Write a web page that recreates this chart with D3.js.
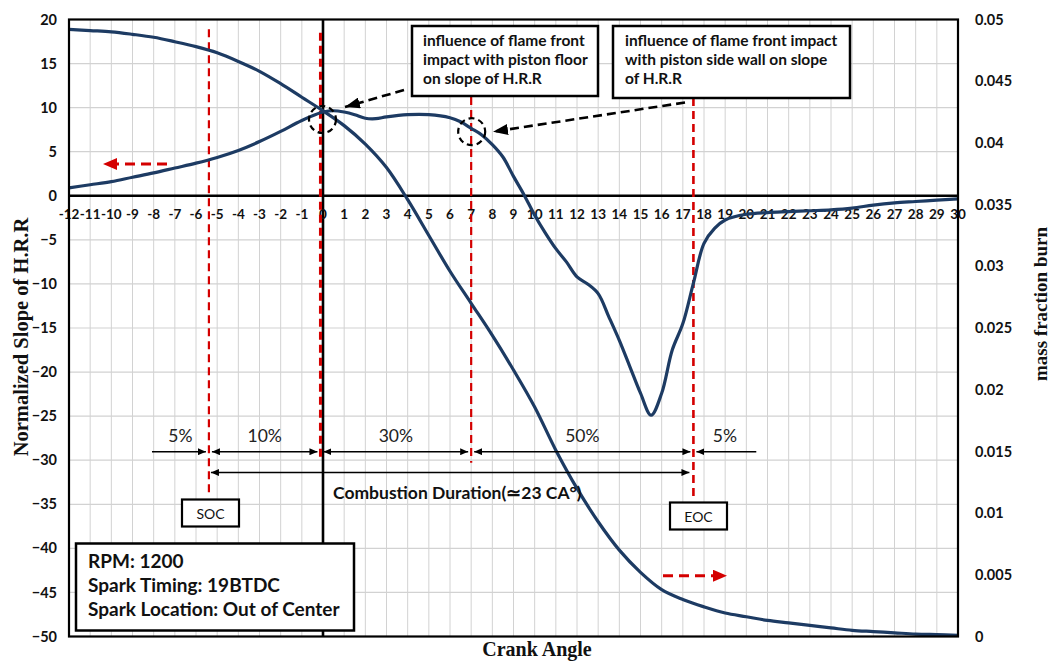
<!DOCTYPE html>
<html><head><meta charset="utf-8">
<script src="https://cdn.jsdelivr.net/npm/d3@7"></script>
<style>body{margin:0;background:#fff}svg{display:block}</style>
</head><body><svg id="c" width="1054" height="662"></svg>
<script>
// ---------- data ----------
const hrrAngle = [-12,-11,-10,-9,-8,-7,-6,-5,-4,-3,-2,-1,0,0.5,1,1.5,2,2.5,3,4,5,6,6.5,7,7.5,8,8.5,9,9.5,10,10.5,11,11.5,12,12.5,13,13.5,14,14.5,15,15.5,16,16.5,17,17.5,18,18.5,19,20,21,22,23,24,25,26,27,28,29,30];
const hrrSlope = [0.9,1.25,1.6,2.1,2.6,3.15,3.7,4.35,5.15,6.15,7.3,8.55,9.5,9.65,9.5,9.2,8.8,8.75,8.95,9.2,9.2,8.85,8.4,7.65,6.9,5.8,4.4,2.2,0.1,-2.2,-4.2,-6.0,-7.5,-9.2,-10.0,-11.1,-13.7,-16.4,-19.4,-22.4,-24.9,-22.4,-17.5,-14.5,-9.9,-5.4,-3.7,-2.75,-2.1,-1.9,-1.8,-1.7,-1.6,-1.4,-1.05,-0.8,-0.65,-0.5,-0.35];
const mfbAngle = [-12,-11,-10,-9,-8,-7,-6,-5,-4,-3,-2,-1,0,1,2,3,4,5,6,7,8,9,10,11,12,13,14,15,16,17,18,19,20,21,22,23,24,25,26,27,28,29,30];
const mfbValue = [0.0492,0.0491,0.0490,0.0488,0.04856,0.0482,0.0478,0.0473,0.0466,0.0458,0.0448,0.0437,0.0426,0.0414,0.0399,0.0380,0.0354,0.0325,0.0296,0.0270,0.0244,0.0216,0.0186,0.0151,0.0120,0.0093,0.0070,0.0052,0.0038,0.0030,0.0024,0.0019,0.0016,0.0013,0.0011,0.0009,0.0007,0.0005,0.0004,0.0003,0.0002,0.00015,0.0001];
const xTickLabels = [-12,-11,-10,-9,-8,-7,-6,-5,-4,-3,-2,-1,0,1,2,3,4,5,6,7,8,9,10,11,12,13,14,15,16,17,18,19,20,21,22,23,24,25,26,27,28,29,30];
const leftTicks = [-50,-45,-40,-35,-30,-25,-20,-15,-10,-5,0,5,10,15,20];
const rightTicks = [0,0.005,0.01,0.015,0.02,0.025,0.03,0.035,0.04,0.045,0.05];
const phaseLabels = ["5%","10%","30%","50%","5%"];
const phaseBounds = [-8.08,-5.39,-0.12,7,17.5,20.47];
const socAngle = -5.39, eocAngle = 17.5;
const infoLines = ["RPM: 1200","Spark Timing: 19BTDC","Spark Location: Out of Center"];
const note1 = ["influence of flame front","impact with piston floor","on slope of H.R.R"];
const note2 = ["influence of flame front impact","with piston side wall on slope","of H.R.R"];

// ---------- scales ----------
const svg = d3.select("#c");
const L = 69, R = 958, T = 19.5, B = 636.5;
const x = d3.scaleLinear().domain([-12,30]).range([L,R]);
const yL = d3.scaleLinear().domain([-50,20]).range([B,T]);
const yR = d3.scaleLinear().domain([0,0.05]).range([B,T]);
const navy = "#1d3b63", red = "#d40000";
const sans = "Lato, 'Open Sans', sans-serif", serif = "'Liberation Serif', 'DejaVu Serif', serif";

// markers
const defs = svg.append("defs");
function marker(id, w, h, color){
  defs.append("marker").attr("id",id).attr("markerUnits","userSpaceOnUse")
    .attr("markerWidth",w).attr("markerHeight",h).attr("refX",w).attr("refY",h/2)
    .attr("orient","auto-start-reverse")
    .append("path").attr("d",`M0,0L${w},${h/2}L0,${h}Z`).attr("fill",color);
}
marker("ak",8,7,"#000");
marker("ar",14,12,red);
marker("ad",15,11,"#000");

// grid
const g = svg.append("g");
g.selectAll(".vg").data(xTickLabels.filter(d=>d>-12&&d<30)).enter().append("line")
  .attr("x1",d=>x(d)).attr("x2",d=>x(d)).attr("y1",T).attr("y2",B)
  .attr("stroke","#d2d2d2").attr("stroke-width",1);
g.selectAll(".hg").data(leftTicks.filter(d=>d>-50&&d<20)).enter().append("line")
  .attr("x1",L).attr("x2",R).attr("y1",d=>yL(d)).attr("y2",d=>yL(d))
  .attr("stroke","#d2d2d2").attr("stroke-width",1.2);

// zero lines
g.append("line").attr("x1",L).attr("x2",R).attr("y1",yL(0)).attr("y2",yL(0)).attr("stroke","#000").attr("stroke-width",2.6);
g.append("line").attr("x1",x(0)).attr("x2",x(0)).attr("y1",T).attr("y2",B).attr("stroke","#000").attr("stroke-width",2.6);

// x tick labels on the zero line
g.selectAll(".xt").data(xTickLabels).enter().append("text")
  .attr("x",d=>x(d)).attr("y",yL(0)+23).attr("text-anchor","middle")
  .attr("font-family",sans).attr("font-weight","bold").attr("font-size",13.5).attr("fill","#111")
  .text(d=>d);

// left axis
const la = svg.append("g").attr("transform",`translate(${L},0)`)
  .call(d3.axisLeft(yL).tickValues(leftTicks).tickSize(0).tickPadding(12));
la.select(".domain").remove();
la.selectAll("text").attr("font-family",sans).attr("font-weight","bold").attr("font-size",14.5).attr("fill","#111");

// right axis
const ra = svg.append("g").attr("transform",`translate(${R},0)`)
  .call(d3.axisRight(yR).tickValues(rightTicks).tickSize(0).tickPadding(17).tickFormat(d=>String(+d.toFixed(4))));
ra.select(".domain").remove();
ra.selectAll("text").attr("font-family",sans).attr("font-weight","bold").attr("font-size",14.5).attr("fill","#111");

// red vertical dashed lines
const vlines = [[socAngle,18.9,-33.8,2.2],[-0.12,18.5,-29.6,3],[7,11.2,-30.3,2.2],[eocAngle,11.1,-34.5,2.6]];
svg.selectAll(".rv").data(vlines).enter().append("line")
  .attr("x1",d=>x(d[0])).attr("x2",d=>x(d[0])).attr("y1",d=>yL(d[1])).attr("y2",d=>yL(d[2]))
  .attr("stroke",red).attr("stroke-width",d=>d[3]).attr("stroke-dasharray","8,5");

// curves
const line = d3.line().curve(d3.curveCatmullRom.alpha(0.5));
svg.append("path").attr("d",line(mfbAngle.map((a,i)=>[x(a),yR(mfbValue[i])])))
  .attr("fill","none").attr("stroke",navy).attr("stroke-width",3.2);
svg.append("path").attr("d",line(hrrAngle.map((a,i)=>[x(a),yL(hrrSlope[i])])))
  .attr("fill","none").attr("stroke",navy).attr("stroke-width",3.2);

// border
svg.append("rect").attr("x",L).attr("y",T).attr("width",R-L).attr("height",B-T)
  .attr("fill","none").attr("stroke","#000").attr("stroke-width",2.2);

// dashed circles
[[322.5,119.5],[471.7,131.7]].forEach(c=>{
  svg.append("circle").attr("cx",c[0]).attr("cy",c[1]).attr("r",13.5)
    .attr("fill","none").attr("stroke","#000").attr("stroke-width",2.2).attr("stroke-dasharray","6,4");
});

// annotation boxes
function box(x0,y0,w,h,lines,fs,lh,tx,ty,weight){
  svg.append("rect").attr("x",x0).attr("y",y0).attr("width",w).attr("height",h)
    .attr("fill","#fff").attr("stroke","#000").attr("stroke-width",2.5);
  lines.forEach((t,i)=>svg.append("text").attr("x",tx).attr("y",ty+i*lh)
    .attr("font-family",sans).attr("font-weight",weight).attr("font-size",fs).attr("fill","#111").text(t));
}
box(412,26,186,70,note1,15.5,19,423,46,"bold");
box(613,26,237,72,note2,15.5,19,625,46,"bold");
box(76,543.5,278,87,infoLines,19,24,88,568,"bold");

// SOC / EOC boxes
[[182,499.5,"SOC"],[670,502.5,"EOC"]].forEach(b=>{
  svg.append("rect").attr("x",b[0]).attr("y",b[1]).attr("width",57).attr("height",27)
    .attr("fill","#fff").attr("stroke","#000").attr("stroke-width",2.2);
  svg.append("text").attr("x",b[0]+28.5).attr("y",b[1]+19).attr("text-anchor","middle")
    .attr("font-family",sans).attr("font-size",14).attr("fill","#111").text(b[2]);
});

// black dashed arrows
[[404,90,345,107],[685,102.5,493,131.7]].forEach(a=>{
  svg.append("line").attr("x1",a[0]).attr("y1",a[1]).attr("x2",a[2]).attr("y2",a[3])
    .attr("stroke","#000").attr("stroke-width",2.6).attr("stroke-dasharray","9,5").attr("marker-end","url(#ad)");
});

// red dashed arrows
[[167,164,103,164],[663,575.7,727,575.7]].forEach(a=>{
  svg.append("line").attr("x1",a[0]).attr("y1",a[1]).attr("x2",a[2]).attr("y2",a[3])
    .attr("stroke",red).attr("stroke-width",3).attr("stroke-dasharray","10,6").attr("marker-end","url(#ar)");
});

// phase arrows
const pY = 451.7;
phaseLabels.forEach((lab,i)=>{
  const a = phaseBounds[i], b = phaseBounds[i+1];
  const ln = svg.append("line").attr("stroke","#000").attr("stroke-width",1.4).attr("y1",pY).attr("y2",pY);
  if(i===0){ ln.attr("x1",x(a)).attr("x2",x(b)-3).attr("marker-end","url(#ak)"); }
  else if(i===phaseLabels.length-1){ ln.attr("x1",x(b)).attr("x2",x(a)+3).attr("marker-end","url(#ak)"); }
  else { ln.attr("x1",x(a)+3).attr("x2",x(b)-3).attr("marker-start","url(#ak)").attr("marker-end","url(#ak)"); }
  svg.append("text").attr("x",x((a+b)/2)).attr("y",pY-10).attr("text-anchor","middle")
    .attr("font-family",sans).attr("font-size",17.5).attr("fill","#222").text(lab);
});

// combustion duration
const cY = 472.5;
svg.append("line").attr("x1",x(socAngle)+2).attr("x2",x(eocAngle)-4).attr("y1",cY).attr("y2",cY)
  .attr("stroke","#000").attr("stroke-width",1.4).attr("marker-start","url(#ak)").attr("marker-end","url(#ak)");
svg.append("text").attr("x",333).attr("y",499).attr("font-family",sans).attr("font-weight","bold")
  .attr("font-size",17.5).attr("fill","#111").text("Combustion Duration(\u224323 CA\u00b0)");

// axis titles
svg.append("text").attr("transform","translate(28,337) rotate(-90)").attr("text-anchor","middle")
  .attr("font-family",serif).attr("font-weight","bold").attr("font-size",20.5).attr("fill","#111")
  .text("Normalized Slope of H.R.R");
svg.append("text").attr("transform","translate(1047,304) rotate(-90)").attr("text-anchor","middle")
  .attr("font-family",serif).attr("font-weight","bold").attr("font-size",19).attr("fill","#111")
  .text("mass fraction burn");
svg.append("text").attr("x",537).attr("y",656).attr("text-anchor","middle")
  .attr("font-family",serif).attr("font-weight","bold").attr("font-size",20).attr("fill","#111")
  .text("Crank Angle");
</script></body></html>
